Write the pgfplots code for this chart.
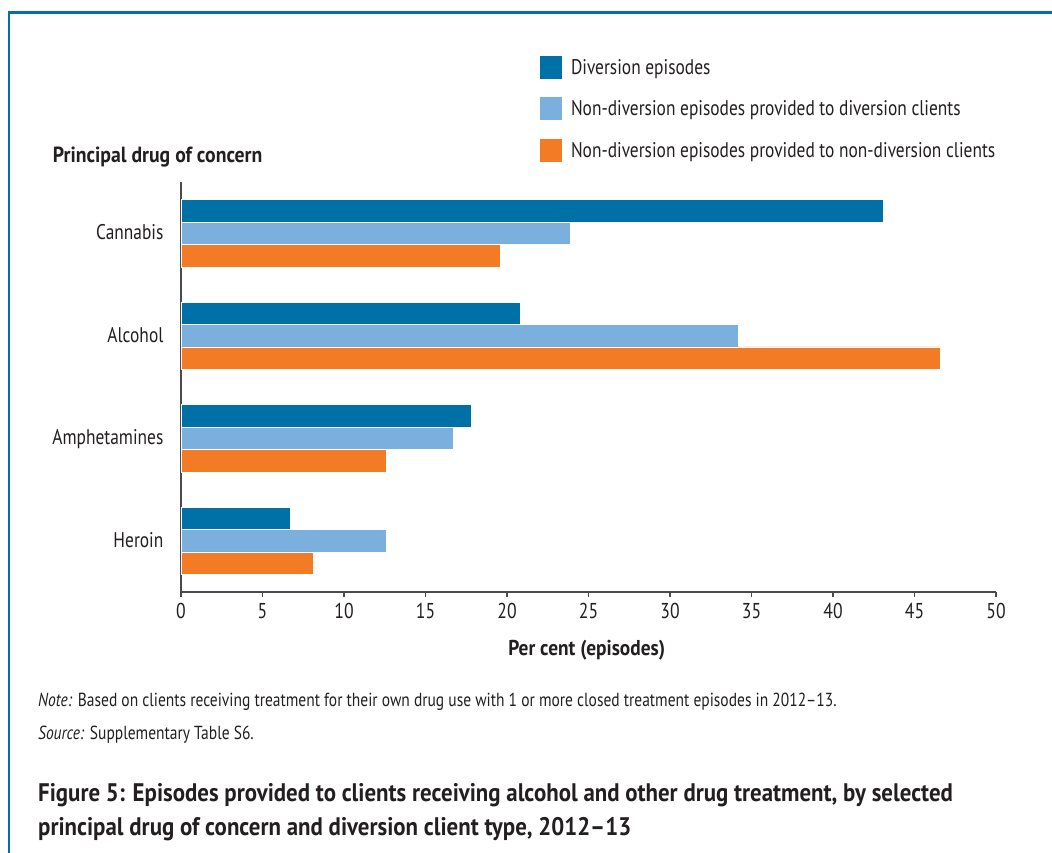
\documentclass[border=0pt]{standalone}
\usepackage{pgfplots}
\pgfplotsset{compat=1.18}
\usepackage{fontspec}
\setmainfont{PT Sans}[FakeStretch=0.82, BoldFeatures={FakeStretch=0.9}]
\definecolor{cdark}{HTML}{0071A7}
\definecolor{clight}{HTML}{7BAFDE}
\definecolor{corange}{HTML}{F47B25}
\definecolor{ctext}{HTML}{231F20}
\definecolor{caxis}{HTML}{4A4A4A}
\begin{document}
\begin{tikzpicture}[x=1pt,y=1pt]
\useasboundingbox (0,0) rectangle (1052,853);
\draw[cdark, line width=2.2pt] (9.3,0) -- (9.3,840.5) -- (1052,840.5);
\begin{axis}[
  at={(181pt,261pt)}, anchor=south west,
  scale only axis, width=815pt, height=410pt,
  xmin=0, xmax=50, ymin=-0.5, ymax=3.5, y dir=reverse,
  axis x line*=bottom, axis y line*=left,
  axis line style={draw=caxis, line width=1.2pt, -},
  xtick={0,5,...,50}, ytick={0,1,2,3},
  yticklabels={Cannabis,Alcohol,Amphetamines,Heroin},
  xtick align=outside, major tick length=5pt,
  ytick style={draw=none},
  xtick style={draw=caxis, line width=1.2pt},
  /pgf/number format/assume math mode=true,
  xticklabel style={font=\fontsize{21.5}{26}\selectfont, text=ctext, anchor=base, inner sep=0pt, yshift=-21.8pt},
  yticklabel style={font=\fontsize{21.2}{26}\selectfont, text=ctext, anchor=base east, inner sep=0pt, xshift=-12.4pt, yshift=-6.3pt},
  xlabel={Per cent (episodes)},
  xlabel style={font=\bfseries\fontsize{21.5}{26}\selectfont, text=ctext, at={(axis description cs:0.4978,-0.1537)}, anchor=base, inner sep=0pt},
  xbar, bar width=0.219,
  legend style={at={(axis description cs:0.4405,1.3299)}, anchor=north west, draw=none, fill=none, inner sep=0pt, outer sep=0pt, row sep=0pt, column sep=7pt, font=\fontsize{21.2}{25}\selectfont, text=ctext, cells={anchor=west}},
  legend image code/.code={\path[draw=none,fill=none] (0pt,-20.75pt) rectangle (22pt,20.75pt); \fill[#1,draw=none] (0pt,-11.5pt) rectangle (22pt,11.5pt);},
]
\addplot[xbar, fill=cdark, draw=white, line width=0.5pt, bar shift=-0.219] coordinates {(43.1,0) (20.8,1) (17.8,2) (6.7,3)};
\addlegendentry{Diversion episodes}
\addplot[xbar, fill=clight, draw=white, line width=0.5pt, bar shift=0] coordinates {(23.9,0) (34.2,1) (16.7,2) (12.6,3)};
\addlegendentry{Non-diversion episodes provided to diversion clients}
\addplot[xbar, fill=corange, draw=white, line width=0.5pt, bar shift=0.219] coordinates {(19.6,0) (46.6,1) (12.6,2) (8.1,3)};
\addlegendentry{Non-diversion episodes provided to non-diversion clients}
\end{axis}
\node[anchor=base west, inner sep=0pt, text=ctext, font=\bfseries\fontsize{21.9}{26}\selectfont] at (52.7,690.3) {Principal drug of concern};
\node[anchor=base west, inner sep=0pt, text=ctext, font=\fontsize{18.9}{23}\selectfont] at (38,146.3) {\textit{Note:} Based on clients receiving treatment for their own drug use with 1 or more closed treatment episodes in 2012–13.};
\node[anchor=base west, inner sep=0pt, text=ctext, font=\fontsize{18.9}{23}\selectfont] at (38,113.7) {\textit{Source:} Supplementary Table S6.};
\node[anchor=base west, inner sep=0pt, text=ctext, font=\bfseries\fontsize{25.4}{30}\selectfont] at (38,51) {Figure 5: Episodes provided to clients receiving alcohol and other drug treatment, by selected};
\node[anchor=base west, inner sep=0pt, text=ctext, font=\bfseries\fontsize{25.4}{30}\selectfont] at (38,17) {principal drug of concern and diversion client type, 2012–13};
\end{tikzpicture}
\end{document}
